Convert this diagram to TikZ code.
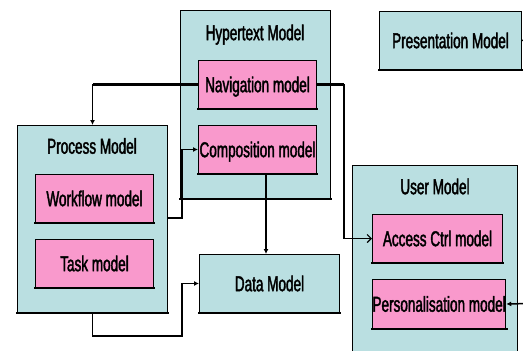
\documentclass[tikz,border=0pt]{standalone}
\usepackage{fontspec}
\setmainfont{Liberation Sans}[FakeStretch=0.63,FakeBold=1.8]
\usetikzlibrary{arrows.meta}
\definecolor{boxteal}{RGB}{186,223,225}
\definecolor{boxpink}{RGB}{249,153,204}
\begin{document}
\begin{tikzpicture}[x=1pt,y=-1pt,
  every node/.style={font=\fontsize{21.5}{24}\selectfont, text height=15.4pt, text depth=0pt, inner sep=0pt},
  shadowedge/.style={append after command={(\tikzlastnode.south west) edge[line width=2.6pt, line cap=rect] (\tikzlastnode.south east)}},
  outerbox/.style={draw, line width=1pt, fill=boxteal, anchor=north west, shadowedge},
  innerbox/.style={draw, line width=1pt, fill=boxpink, anchor=north west, shadowedge},
  conn/.style={line width=1.5pt},
  thinconn/.style={line width=1.1pt},
  thickconn/.style={line width=3.2pt},
  tip/.style={-{Latex[length=5pt,width=5pt]}},
  opentip/.style={-{Straight Barb[length=4pt,width=8pt,line width=1.2pt]}}
]
\useasboundingbox (0,0) rectangle (523,351);
\fill[white] (0,0) rectangle (523,351);

% containers
\node[outerbox, minimum width=150pt, minimum height=188pt] (hyp) at (180,10) {};
\node[outerbox, minimum width=150pt, minimum height=187pt] (proc) at (17,125) {};
\node[outerbox, minimum width=165pt, minimum height=200pt] (user) at (352,165) {};
\node[outerbox, minimum width=142pt, minimum height=58pt] (pres) at (379,11) {Presentation Model};
\node[outerbox, minimum width=140pt, minimum height=58pt] (data) at (199,254) {Data Model};

% titles
\node (hyptitle) at (255,32.5) {Hypertext Model};
\node (proctitle) at (92,146) {Process Model};
\node (usertitle) at (435,186.5) {User Model};

% inner boxes
\node[innerbox, minimum width=118pt, minimum height=48pt] (nav) at (198,60) {Navigation model};
\node[innerbox, minimum width=118pt, minimum height=48pt] (comp) at (198,125) {Composition model};
\node[innerbox, minimum width=118pt, minimum height=48pt] (work) at (35,174) {Workflow model};
\node[innerbox, minimum width=118pt, minimum height=48pt] (task) at (35,239) {Task model};
\node[innerbox, minimum width=130pt, minimum height=48pt] (acc) at (372,214) {Access Ctrl model};
\node[innerbox, minimum width=130pt, minimum height=49pt] (pers) at (372,279) {Personalisation model};

% helper coordinates
\coordinate (jr) at (344,0);
\coordinate (jc) at (182,218);
\coordinate (jd) at (266,0);
\coordinate (jb) at (182,336);
\coordinate (jp) at (530,39);
\coordinate (jq) at (530,303.5);

% connectors
\draw[conn,tip] (nav.west) -| (proc.north);
\draw[thickconn] (nav.west) -- (nav.west -| proc.north);
\draw[thinconn,opentip] (nav.east) -- (nav.east -| jr) |- (acc.west);
\draw[thickconn] (nav.east) -- (nav.east -| jr);
\draw[conn,tip] (proc.east |- jc) -- (jc) |- (comp.west);
\draw[thinconn,tip] (comp.south -| jd) -- (data.north -| jd);
\draw[conn,tip] (proc.south) |- (jb) |- (data.west);
\draw[conn] (pres.east) -- (jp);
\draw[conn,tip] (jq) -- (pers.east);
\end{tikzpicture}
\end{document}
